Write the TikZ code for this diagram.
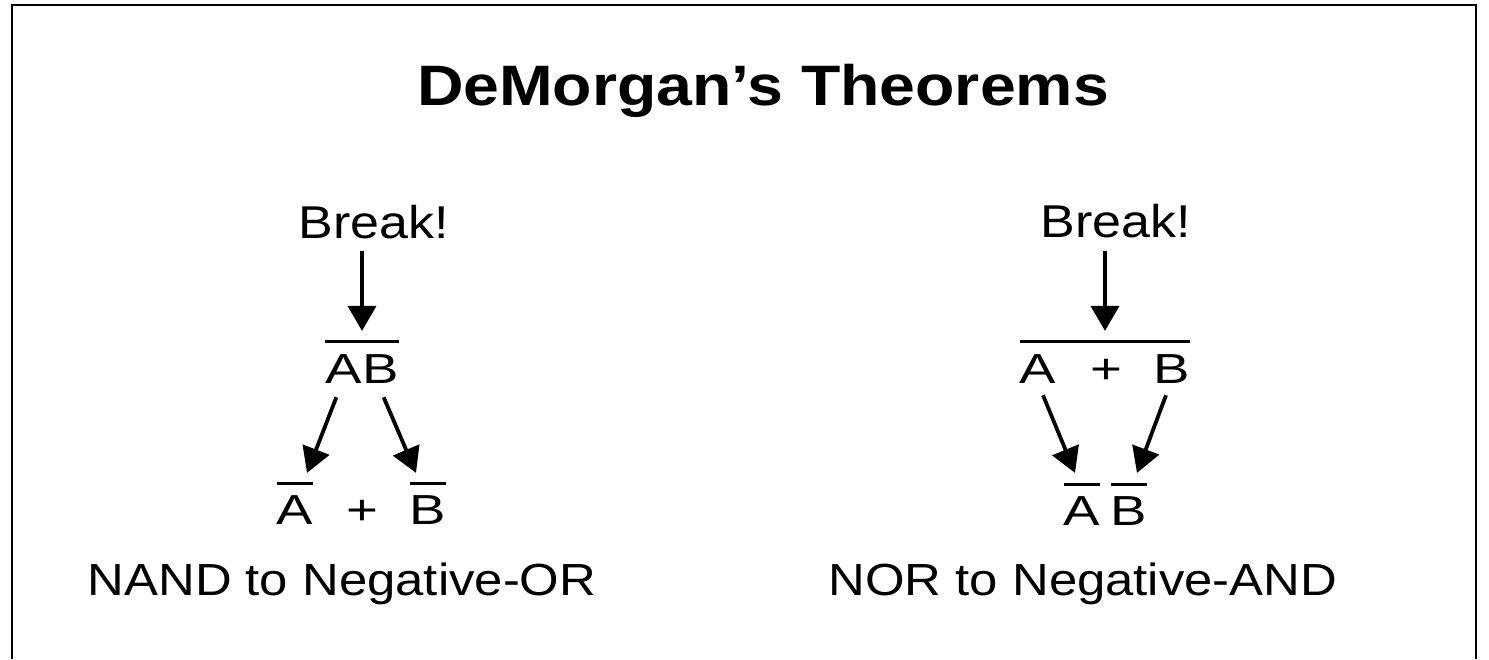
\documentclass[tikz,border=0pt]{standalone}
\usepackage{fontspec}
\setmainfont{Liberation Sans}[FakeStretch=1.13]
\newfontfamily\letterfont{Liberation Sans}[FakeStretch=1.3]
\usetikzlibrary{arrows.meta}

\begin{document}
\begin{tikzpicture}[
x=1pt,y=-1pt,
word/.style={anchor=base,inner sep=0pt,font=\fontsize{46}{50}\selectfont},
lett/.style={anchor=base,inner sep=0pt,font={\letterfont\fontsize{42}{45}\selectfont}},
arr/.style={-{Triangle[length=25pt,width=28pt]},line width=3.8pt},
bar/.style={line width=3pt}
]
\useasboundingbox (0,0) rectangle (1489,659);
\draw[line width=2pt] (12,659) -- (12,5) -- (1476,5) -- (1476,659);
\node[word,font=\bfseries\fontsize{57}{60}\selectfont] (title) at (763,105) {DeMorgan’s Theorems};
% left: NAND
\node[word] (breakL) at (374,238) {Break!};
\node[lett] (nand) at (362,383) {AB};
\node[lett] (orA) at (295,524) {A};
\node[lett] (orPlus) at (362,524) {+};
\node[lett] (orB) at (428,524) {B};
\node[word,font=\fontsize{45}{50}\selectfont] (lblL) at (342,595) {NAND to Negative-OR};
\draw[bar] ([yshift=12pt]nand.north west) -- coordinate (barL) ([yshift=12pt]nand.north east);
\draw[bar] ([yshift=11pt]orA.north west) -- ([yshift=11pt]orA.north east);
\draw[bar] ([yshift=11pt]orB.north west) -- ([yshift=11pt]orB.north east);
\draw[arr] ([yshift=-12pt]breakL.south -| barL) -- ([yshift=11pt]barL);
\draw[arr] ([shift={(11pt,-14pt)}]nand.south west) -- ([shift={(12pt,22pt)}]orA.north);
\draw[arr] ([shift={(-15pt,-14pt)}]nand.south east) -- ([shift={(-12pt,22pt)}]orB.north);
% right: NOR
\node[word] (breakR) at (1116,237) {Break!};
\node[lett] (norA) at (1038,383) {A};
\node[lett] (norPlus) at (1106,383) {+};
\node[lett] (norB) at (1172,383) {B};
\node[lett] (andA) at (1082,525) {A};
\node[lett] (andB) at (1129,525) {B};
\node[word,font=\fontsize{45}{50}\selectfont] (lblR) at (1083,595) {NOR to Negative-AND};
\draw[bar] ([yshift=12pt]norA.north west) -- coordinate (barR) ([yshift=12pt]norB.north east);
\draw[bar] ([yshift=11pt]andA.north west) -- ([yshift=11pt]andA.north east);
\draw[bar] ([yshift=11pt]andB.north west) -- ([yshift=11pt]andB.north east);
\draw[arr] ([yshift=-13pt]breakR.south -| barR) -- ([yshift=11pt]barR);
\draw[arr] ([shift={(5pt,-12pt)}]norA.south) -- ([shift={(-7pt,23pt)}]andA.north);
\draw[arr] ([shift={(-6pt,-12pt)}]norB.south) -- ([shift={(8pt,23pt)}]andB.north);
\end{tikzpicture}
\end{document}
